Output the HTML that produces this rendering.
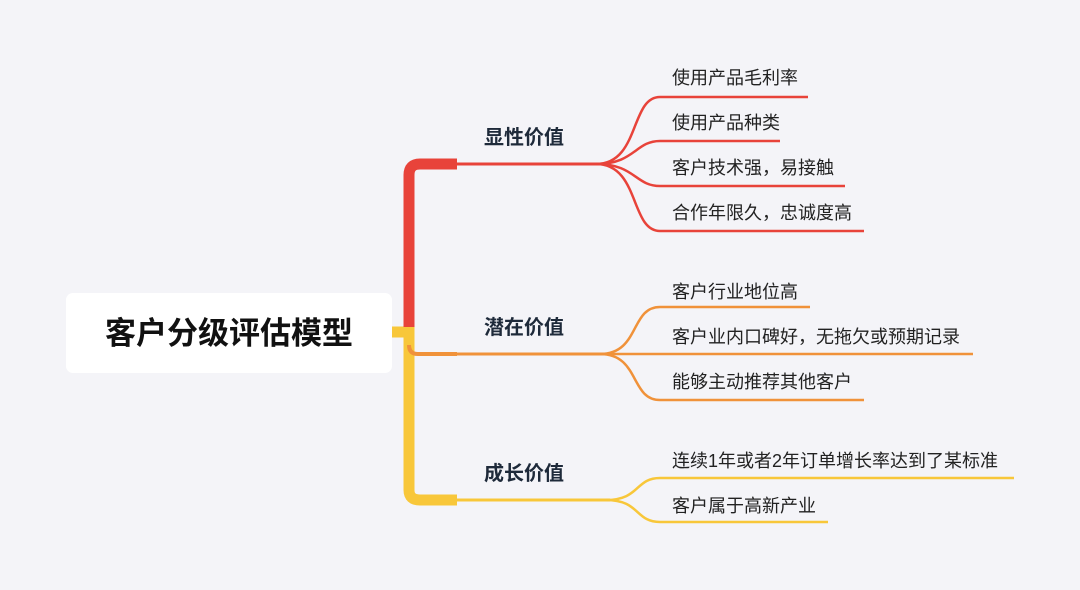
<!DOCTYPE html>
<html><head><meta charset="utf-8"><style>
html,body{margin:0;padding:0;background:#f4f4f8;}
svg{display:block}
text{font-family:"Liberation Sans","Noto Sans CJK SC",sans-serif;}
</style></head><body>
<svg width="1080" height="590" viewBox="0 0 1080 590" xmlns="http://www.w3.org/2000/svg">
<rect width="1080" height="590" fill="#f4f4f8"/>
<rect x="66" y="293" width="326" height="80" rx="7" fill="#ffffff"/>
<text x="229" y="344" font-size="31" font-weight="bold" fill="#111" text-anchor="middle">客户分级评估模型</text>
<path d="M392 332 H404" stroke="#f8c73a" stroke-width="11" fill="none"/>
<path d="M409 327 V175 Q409 164 420 164 H457" stroke="#e8433a" stroke-width="11" fill="none"/>
<path d="M409 327 V490 Q409 500 420 500 H457" stroke="#f8c73a" stroke-width="11" fill="none"/>
<path d="M409 345 Q409 354 418 354 H457" stroke="#f0923a" stroke-width="4" fill="none"/>
<path d="M457 164 H600" stroke="#e8433a" stroke-width="3" fill="none"/>
<path d="M457 354 H605" stroke="#f0923a" stroke-width="3" fill="none"/>
<path d="M457 500 H610" stroke="#f8c73a" stroke-width="3" fill="none"/>
<g font-size="20" font-weight="bold" fill="#1e2a3a">
<text x="484" y="144">显性价值</text>
<text x="484" y="334">潜在价值</text>
<text x="484" y="480">成长价值</text>
</g>
<g stroke="#e8433a" stroke-width="2.5" fill="none">
<path d="M596 164 C640 164 630 97 660 97 H808"/>
<path d="M596 164 C635 164 635 141 660 141 H780"/>
<path d="M596 164 C635 164 635 186 660 186 H845"/>
<path d="M596 164 C640 164 630 231 660 231 H864"/>
</g>
<g stroke="#f0923a" stroke-width="2.5" fill="none">
<path d="M600 354 C640 354 630 307 660 307 H810"/>
<path d="M600 354 H973"/>
<path d="M600 354 C640 354 630 400 660 400 H864"/>
</g>
<g stroke="#f8c73a" stroke-width="2.5" fill="none">
<path d="M606 500 C640 500 635 478 660 478 H1014"/>
<path d="M606 500 C640 500 635 522 660 522 H828"/>
</g>
<g font-size="18" fill="#222">
<text x="672" y="84">使用产品毛利率</text>
<text x="672" y="129">使用产品种类</text>
<text x="672" y="174">客户技术强，易接触</text>
<text x="672" y="219">合作年限久，忠诚度高</text>
<text x="672" y="298">客户行业地位高</text>
<text x="672" y="343">客户业内口碑好，无拖欠或预期记录</text>
<text x="672" y="388">能够主动推荐其他客户</text>
<text x="672" y="467">连续1年或者2年订单增长率达到了某标准</text>
<text x="672" y="512">客户属于高新产业</text>
</g>
</svg>
</body></html>
